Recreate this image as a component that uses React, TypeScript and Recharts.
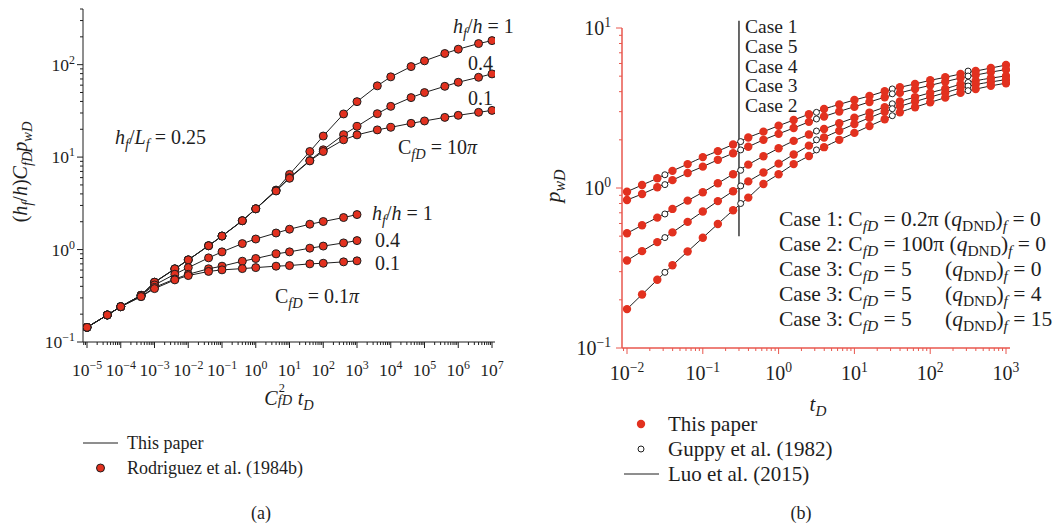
import React from 'react';
import { ComposedChart, Line, XAxis, YAxis, ReferenceLine } from 'recharts';

const SERIF = '"Liberation Serif", "DejaVu Serif", serif';
const INK = '#1e1e1e';
const RED = '#e2311f';
const AXIS_RED = '#e8574e';

// ---------- panel (a) ----------
const timeA = [1e-5, 4e-5, 1e-4, 4e-4, 1e-3, 4e-3, 1e-2, 4e-2, 0.1, 0.4, 1, 4, 10, 40, 100, 400, 1000];
const timeAext = [...timeA, 4e3, 1e4, 4e4, 1e5, 4e5, 1e6, 4e6, 1e7];

const cfd01_h1 = [0.144, 0.196, 0.241, 0.32, 0.414, 0.541, 0.638, 0.813, 0.944, 1.16, 1.3, 1.51, 1.66, 1.88, 2.01, 2.22, 2.39];
const cfd01_h04 = [0.144, 0.196, 0.241, 0.31, 0.39, 0.48, 0.54, 0.62, 0.661, 0.748, 0.8, 0.898, 0.944, 1.035, 1.09, 1.18, 1.25];
const cfd01_h01 = [0.144, 0.196, 0.241, 0.31, 0.378, 0.47, 0.523, 0.58, 0.603, 0.622, 0.638, 0.661, 0.671, 0.7, 0.711, 0.736, 0.755];

const cfd10_h1 = [0.144, 0.196, 0.241, 0.32, 0.443, 0.618, 0.773, 1.1, 1.4, 2.05, 2.76, 4.4, 6.5, 11.5, 16.9, 29.3, 39.8, 59, 73.8, 95.3, 110, 132, 147, 169, 182];
const cfd10_h04 = [0.144, 0.196, 0.241, 0.32, 0.443, 0.618, 0.773, 1.1, 1.4, 2.05, 2.76, 4.35, 6.0, 9.2, 12.0, 17.5, 21.5, 29.5, 35.4, 44, 49.9, 58.3, 64.5, 73, 79.4];
const cfd10_h01 = [0.144, 0.196, 0.241, 0.32, 0.443, 0.618, 0.773, 1.1, 1.4, 2.05, 2.76, 4.3, 5.9, 9.1, 11.5, 15.4, 17.4, 19.7, 21, 23.2, 24.6, 26.9, 28.3, 30.5, 32];

// ---------- panel (b) ----------
const tDots = [0.01, 0.0158, 0.0251, 0.0398, 0.0631, 0.1, 0.158, 0.251, 0.398, 0.631, 1, 1.58, 2.51, 3.98, 6.31, 10, 15.8, 25.1, 39.8, 63.1, 100, 158, 251, 398, 631, 1000];
const case1 = [0.948, 1.044, 1.15, 1.28, 1.41, 1.56, 1.7, 1.87, 2.07, 2.25, 2.45, 2.66, 2.89, 3.12, 3.33, 3.55, 3.76, 4.02, 4.26, 4.47, 4.71, 4.92, 5.16, 5.38, 5.62, 5.87];
const case5 = [0.841, 0.917, 1.01, 1.12, 1.24, 1.36, 1.5, 1.65, 1.81, 2.0, 2.18, 2.37, 2.59, 2.8, 3.01, 3.22, 3.45, 3.69, 3.93, 4.16, 4.38, 4.62, 4.87, 5.08, 5.3, 5.5];
const case4 = [0.521, 0.585, 0.653, 0.74, 0.834, 0.94, 1.07, 1.22, 1.4, 1.58, 1.77, 1.97, 2.16, 2.34, 2.54, 2.75, 2.96, 3.2, 3.47, 3.7, 3.94, 4.17, 4.45, 4.68, 4.86, 5.02];
const case3 = [0.352, 0.403, 0.459, 0.528, 0.614, 0.713, 0.828, 0.955, 1.1, 1.25, 1.42, 1.62, 1.84, 2.07, 2.28, 2.51, 2.75, 3.0, 3.24, 3.47, 3.7, 3.94, 4.21, 4.43, 4.6, 4.76];
const case2 = [0.175, 0.216, 0.267, 0.329, 0.401, 0.489, 0.596, 0.726, 0.871, 1.06, 1.22, 1.41, 1.585, 1.8, 2.0, 2.21, 2.44, 2.69, 2.97, 3.2, 3.43, 3.67, 3.93, 4.15, 4.35, 4.52];

const tGuppy = [0.0316, 0.316, 3.16, 31.6, 316];
const guppy1 = [1.21, 1.95, 2.97, 4.16, 5.38];
const guppy5 = [1.05, 1.73, 2.7, 3.88, 5.01];
const guppy4 = [0.688, 1.29, 2.27, 3.36, 4.57];
const guppy3 = [0.49, 1.03, 2.0, 3.13, 4.34];
const guppy2 = [0.297, 0.8, 1.73, 2.83, 4.06];

const caseSplitT = 0.3;

const zip = (xs: number[], ys: number[]) => ys.map((y, i) => ({ x: xs[i], y }));

function logTicks(lo: number, hi: number, min: number, max: number) {
  const out: number[] = [];
  for (let e = lo; e <= hi; e++) {
    for (let m = 1; m < 10; m++) {
      const v = m * Math.pow(10, e);
      if (v >= min * 0.999 && v <= max * 1.001) out.push(v);
    }
  }
  return out;
}

const expText = (e: number) => (e < 0 ? '\u2212' + -e : String(e));

function majorExp(v: number) {
  const lg = Math.log10(v);
  const e = Math.round(lg);
  return Math.abs(lg - e) < 1e-6 ? e : null;
}

const makeXTick = (color: string, fs: number, off: number) => (props: any) => {
  const { x, y, payload } = props;
  const e = majorExp(payload.value);
  return (
    <g>
      <line x1={x} x2={x} y1={y} y2={y + (e !== null ? 6 : 3)} stroke={color} strokeWidth={1} />
      {e !== null && (
        <text x={x} y={y + off} textAnchor="middle" fontFamily={SERIF} fontSize={fs} fill={INK}>
          10<tspan dy={-fs * 0.42} fontSize={fs * 0.68}>{expText(e)}</tspan>
        </text>
      )}
    </g>
  );
};

const makeYTick = (color: string, fs: number, gap: number) => (props: any) => {
  const { x, y, payload } = props;
  const e = majorExp(payload.value);
  return (
    <g>
      <line x1={x - (e !== null ? 6 : 3)} x2={x} y1={y} y2={y} stroke={color} strokeWidth={1} />
      {e !== null && (
        <text x={x - gap} y={y + fs * 0.36} textAnchor="end" fontFamily={SERIF} fontSize={fs} fill={INK}>
          10<tspan dy={-fs * 0.42} fontSize={fs * 0.68}>{expText(e)}</tspan>
        </text>
      )}
    </g>
  );
};

const Sub = ({ children, it = true }: any) => (
  <span style={{ fontSize: '0.72em', position: 'relative', top: '0.32em', fontStyle: it ? 'italic' : 'normal' }}>{children}</span>
);

function Txt({ x, y, size = 20, anchor = 'start', rotate = false, children }: any) {
  const tx = anchor === 'middle' ? '-50%' : anchor === 'end' ? '-100%' : '0';
  return (
    <div
      style={{
        position: 'absolute',
        left: x,
        top: y,
        transform: `translate(${tx}, -50%)${rotate ? ' rotate(-90deg)' : ''}`,
        transformOrigin: rotate ? '50% 50%' : undefined,
        fontFamily: SERIF,
        fontSize: size,
        lineHeight: 1,
        whiteSpace: 'nowrap',
        color: INK,
      }}
    >
      {children}
    </div>
  );
}

const Cfd = () => (
  <>
    C<Sub>fD</Sub>
  </>
);
const Hf = () => (
  <>
    <i>h</i>
    <Sub>f</Sub>
  </>
);
const QDnd = () => (
  <>
    (<i>q</i>
    <Sub it={false}>DND</Sub>)<Sub>f</Sub>
  </>
);

const seriesA = [
  { id: 'c10h1', data: zip(timeAext, cfd10_h1) },
  { id: 'c10h04', data: zip(timeAext, cfd10_h04) },
  { id: 'c10h01', data: zip(timeAext, cfd10_h01) },
  { id: 'c01h1', data: zip(timeA, cfd01_h1) },
  { id: 'c01h04', data: zip(timeA, cfd01_h04) },
  { id: 'c01h01', data: zip(timeA, cfd01_h01) },
];

const seriesB = [
  { id: 'case1', dots: zip(tDots, case1), open: zip(tGuppy, guppy1) },
  { id: 'case5', dots: zip(tDots, case5), open: zip(tGuppy, guppy5) },
  { id: 'case4', dots: zip(tDots, case4), open: zip(tGuppy, guppy4) },
  { id: 'case3', dots: zip(tDots, case3), open: zip(tGuppy, guppy3) },
  { id: 'case2', dots: zip(tDots, case2), open: zip(tGuppy, guppy2) },
];

const domAX: [number, number] = [7.61e-6, 1.227e7];
const domAY: [number, number] = [0.1, 400];
const domBX: [number, number] = [0.00859, 1129];
const domBY: [number, number] = [0.1, 10];

const ticksAX = logTicks(-6, 7, domAX[0], domAX[1]);
const ticksAY = logTicks(-1, 2, domAY[0], domAY[1]);
const ticksBX = logTicks(-3, 3, domBX[0], domBX[1]);
const ticksBY = logTicks(-1, 1, domBY[0], domBY[1]);

const XTickA = makeXTick(INK, 17.5, 34);
const YTickA = makeYTick(INK, 17.5, 8);
const XTickB = makeXTick(AXIS_RED, 20, 32);
const YTickB = makeYTick(AXIS_RED, 20, 11);

function PanelA() {
  return (
    <div style={{ position: 'absolute', left: 0, top: 0 }}>
      <ComposedChart width={520} height={400} margin={{ top: 9, right: 25, bottom: 18, left: 23 }}>
        <XAxis type="number" dataKey="x" scale="log" domain={domAX} allowDataOverflow ticks={ticksAX} interval={0}
          tick={XTickA} tickLine={false} tickSize={0} tickMargin={0} axisLine={{ stroke: INK }} height={40} />
        <YAxis type="number" dataKey="y" scale="log" domain={domAY} allowDataOverflow ticks={ticksAY} interval={0}
          tick={YTickA} tickLine={false} tickSize={0} tickMargin={0} axisLine={{ stroke: INK }} width={60} />
        {seriesA.map((s) => (
          <Line key={s.id} data={s.data} dataKey="y" type="linear" stroke={INK} strokeWidth={1}
            dot={{ r: 4, fill: RED, stroke: INK, strokeWidth: 1 }} activeDot={false} isAnimationActive={false} />
        ))}
      </ComposedChart>
    </div>
  );
}

function PanelB() {
  return (
    <div style={{ position: 'absolute', left: 520, top: 0 }}>
      <ComposedChart width={544} height={400} margin={{ top: 28, right: 54, bottom: 12, left: 42 }}>
        <XAxis type="number" dataKey="x" scale="log" domain={domBX} allowDataOverflow ticks={ticksBX} interval={0}
          tick={XTickB} tickLine={false} tickSize={0} tickMargin={0} axisLine={{ stroke: AXIS_RED, strokeWidth: 1.5 }} height={40} />
        <YAxis type="number" dataKey="y" scale="log" domain={domBY} allowDataOverflow ticks={ticksBY} interval={0}
          tick={YTickB} tickLine={false} tickSize={0} tickMargin={0} axisLine={{ stroke: AXIS_RED, strokeWidth: 1.5 }} width={60} />
        {seriesB.map((s) => (
          <Line key={s.id + '-luo'} data={s.dots} dataKey="y" type="monotone" stroke={INK} strokeWidth={1}
            dot={false} activeDot={false} isAnimationActive={false} />
        ))}
        {seriesB.map((s) => (
          <Line key={s.id + '-paper'} data={s.dots} dataKey="y" stroke="none"
            dot={{ r: 4.2, fill: RED, stroke: 'none' }} activeDot={false} isAnimationActive={false} />
        ))}
        {seriesB.map((s) => (
          <Line key={s.id + '-guppy'} data={s.open} dataKey="y" stroke="none"
            dot={{ r: 3, fill: '#fff', stroke: INK, strokeWidth: 1 }} activeDot={false} isAnimationActive={false} />
        ))}
        <ReferenceLine segment={[{ x: caseSplitT, y: 0.5 }, { x: caseSplitT, y: 11.1 }]} stroke="#444" strokeWidth={1.6} ifOverflow="visible" />
      </ComposedChart>
    </div>
  );
}

export default function App() {
  const caseOrder = ['Case 1', 'Case 5', 'Case 4', 'Case 3', 'Case 2'];
  const boxRows: [string, React.ReactNode, string, boolean][] = [
    ['Case 1: ', '0.2\u03c0', '0', false],
    ['Case 2: ', '100\u03c0', '0', false],
    ['Case 3: ', '5', '0', true],
    ['Case 3: ', '5', '4', true],
    ['Case 3: ', '5', '15', true],
  ];
  return (
    <div style={{ position: 'absolute', left: 0, top: 0, width: 1064, height: 527, background: '#fff', overflow: 'hidden' }}>
      <PanelA />
      <PanelB />

      {/* panel (a) annotations */}
      <Txt x={453} y={26}><Hf />/<i>h</i> = 1</Txt>
      <Txt x={468} y={63}>0.4</Txt>
      <Txt x={468} y={98}>0.1</Txt>
      <Txt x={398} y={147}><Cfd /> = 10<i>π</i></Txt>
      <Txt x={115} y={137}><Hf />/<i>L</i><Sub>f</Sub> = 0.25</Txt>
      <Txt x={372} y={213}><Hf />/<i>h</i> = 1</Txt>
      <Txt x={375} y={240}>0.4</Txt>
      <Txt x={375} y={263}>0.1</Txt>
      <Txt x={275} y={296}><Cfd /> = 0.1<i>π</i></Txt>
      <Txt x={20} y={172} anchor="middle" rotate>
        (<Hf />/<i>h</i>)<i>C</i><Sub>fD</Sub><i>p</i><Sub>wD</Sub>
      </Txt>
      <Txt x={289} y={398} anchor="middle">
        <i>C</i>
        <span style={{ position: 'relative', display: 'inline-block', width: '1.0em', height: '0.8em', verticalAlign: 'baseline' }}>
          <span style={{ position: 'absolute', left: 1, top: '-0.42em', fontSize: '0.62em', lineHeight: 0.8 }}>2</span>
          <span style={{ position: 'absolute', left: 0, top: '0.44em', fontSize: '0.72em', fontStyle: 'italic', lineHeight: 0.8 }}>fD</span>
        </span>
        <i>t</i><Sub>D</Sub>
      </Txt>
      <Txt x={127} y={443} size={18}>This paper</Txt>
      <Txt x={127} y={468} size={18}>Rodriguez et al. (1984b)</Txt>
      <Txt x={261} y={513} size={18} anchor="middle">(a)</Txt>

      {/* panel (b) annotations */}
      {caseOrder.map((c, i) => (
        <Txt key={c} x={745} y={27 + i * 19.8} size={19.5}>{c}</Txt>
      ))}
      {boxRows.map(([head, val, q, aligned], i) => (
        <Txt key={i} x={779} y={220 + i * 25} size={21.5}>
          {head}<Cfd /> = {val}
          {aligned ? (
            <span style={{ position: 'absolute', left: 166 }}><QDnd /> = {q}</span>
          ) : (
            <> <QDnd /> = {q}</>
          )}
        </Txt>
      ))}
      <Txt x={553} y={186} size={22} anchor="middle" rotate>
        <i>p</i><Sub>wD</Sub>
      </Txt>
      <Txt x={818} y={404} size={21} anchor="middle"><i>t</i><Sub>D</Sub></Txt>
      <Txt x={668} y={424} size={21}>This paper</Txt>
      <Txt x={668} y={449} size={21}>Guppy et al. (1982)</Txt>
      <Txt x={668} y={474} size={21}>Luo et al. (2015)</Txt>
      <Txt x={801} y={513} size={18} anchor="middle">(b)</Txt>

      <svg width={1064} height={527} style={{ position: 'absolute', left: 0, top: 0, pointerEvents: 'none' }}>
        <line x1={83} x2={118} y1={443} y2={443} stroke={INK} strokeWidth={1} />
        <circle cx={100.5} cy={468} r={4} fill={RED} stroke={INK} strokeWidth={1} />
        <circle cx={641} cy={424} r={4.2} fill={RED} />
        <circle cx={641} cy={449} r={3} fill="#fff" stroke={INK} strokeWidth={1} />
        <line x1={624} x2={659} y1={474} y2={474} stroke={INK} strokeWidth={1} />
      </svg>
    </div>
  );
}
